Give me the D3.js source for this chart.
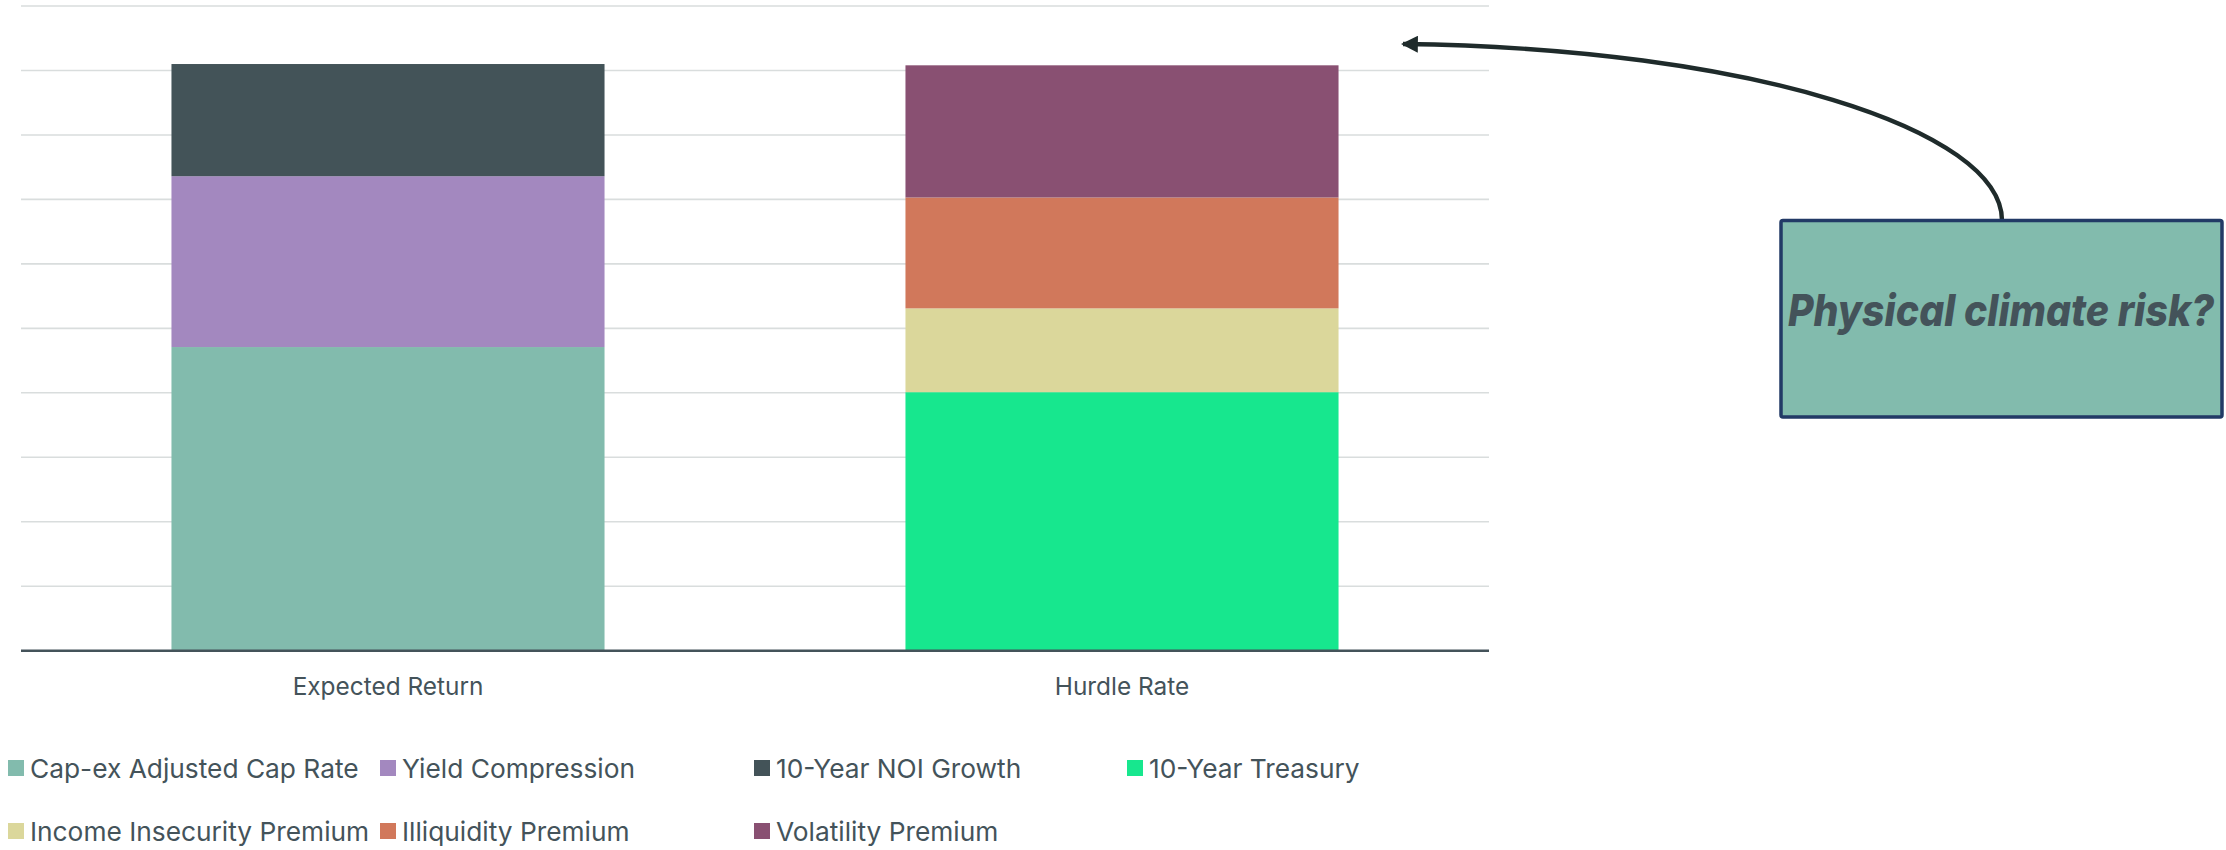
<!DOCTYPE html>
<html>
<head>
<meta charset="utf-8">
<script src="https://cdn.jsdelivr.net/npm/d3@7"></script>
<style>
  html, body { margin: 0; padding: 0; background: #ffffff; }
  svg { display: block; }
</style>
</head>
<body>
<svg id="chart" width="2226" height="850"></svg>
<script>
// Return build-up: expected return vs. hurdle rate (percentage points)
const categories = ["Expected Return", "Hurdle Rate"];
const seriesNames = [
  "Cap-ex Adjusted Cap Rate",
  "Yield Compression",
  "10-Year NOI Growth",
  "10-Year Treasury",
  "Income Insecurity Premium",
  "Illiquidity Premium",
  "Volatility Premium"
];
const capexCapRate      = [4.71, 0];
const yieldCompression  = [2.65, 0];
const noiGrowth         = [1.74, 0];
const treasury10y       = [0, 4.01];
const incomeInsecurity  = [0, 1.30];
const illiquidity       = [0, 1.72];
const volatility        = [0, 2.05];
const yTicks = [0, 1, 2, 3, 4, 5, 6, 7, 8, 9, 10];
const seriesColors = ["#82bbad", "#a388bf", "#435358", "#17e78e", "#dbd79b", "#d1785b", "#895072"];
const legendRows = [
  ["Cap-ex Adjusted Cap Rate", "Yield Compression", "10-Year NOI Growth", "10-Year Treasury"],
  ["Income Insecurity Premium", "Illiquidity Premium", "Volatility Premium"]
];
const calloutText = "Physical climate risk?";

const seriesValues = [capexCapRate, yieldCompression, noiGrowth, treasury10y,
                      incomeInsecurity, illiquidity, volatility];
const table = categories.map((c, i) => {
  const row = { category: c };
  seriesNames.forEach((s, k) => { row[s] = seriesValues[k][i]; });
  return row;
});

const textColor = "#44535a";
const font = "Inter, 'Open Sans', sans-serif";

const svg = d3.select("#chart");
const plot = { left: 21, right: 1489, top: 6, bottom: 650.7 };

const x = d3.scaleBand()
  .domain(categories)
  .range([plot.left, plot.right])
  .paddingInner(0.41)
  .paddingOuter(0.205);

const y = d3.scaleLinear()
  .domain([0, 10])
  .range([plot.bottom, plot.top]);

const color = d3.scaleOrdinal().domain(seriesNames).range(seriesColors);

// horizontal gridlines
svg.append("g")
  .selectAll("line")
  .data(yTicks.filter(t => t > 0))
  .join("line")
  .attr("x1", plot.left)
  .attr("x2", plot.right)
  .attr("y1", d => y(d))
  .attr("y2", d => y(d))
  .attr("stroke", "#d9dddd")
  .attr("stroke-width", 1.6);

// stacked bars
const stacked = d3.stack().keys(seriesNames)(table);
svg.append("g")
  .selectAll("g")
  .data(stacked)
  .join("g")
  .attr("fill", d => color(d.key))
  .selectAll("rect")
  .data(d => d.filter(p => p[1] - p[0] > 0))
  .join("rect")
  .attr("x", d => x(d.data.category))
  .attr("width", x.bandwidth())
  .attr("y", d => y(d[1]))
  .attr("height", d => y(d[0]) - y(d[1]));

// category axis
const xAxis = svg.append("g")
  .attr("transform", `translate(0,${plot.bottom})`)
  .call(d3.axisBottom(x).tickSize(0).tickPadding(27));
xAxis.select(".domain")
  .attr("d", `M${plot.left},0H${plot.right}`)
  .attr("stroke", "#44535a")
  .attr("stroke-width", 2.4);
xAxis.selectAll("text")
  .attr("fill", textColor)
  .style("font-family", font)
  .style("font-size", "24.4px")
  .style("font-weight", 400);

// legend
const legendCols = [8, 380, 754, 1127];
const legendRowY = [768, 831];
const legend = svg.append("g");
legendRows.forEach((row, r) => {
  row.forEach((name, c) => {
    const g = legend.append("g")
      .attr("transform", `translate(${legendCols[c]},${legendRowY[r]})`);
    g.append("rect")
      .attr("x", 0).attr("y", -8)
      .attr("width", 16).attr("height", 16)
      .attr("fill", color(name));
    g.append("text")
      .attr("x", 22).attr("y", 9.5)
      .attr("fill", textColor)
      .style("font-family", font)
      .style("font-size", "26.3px")
      .text(name);
  });
});

// callout box with curved arrow
const defs = svg.append("defs");
defs.append("marker")
  .attr("id", "arrowhead")
  .attr("viewBox", "0 0 16 16")
  .attr("refX", 14).attr("refY", 8)
  .attr("markerWidth", 17).attr("markerHeight", 17)
  .attr("markerUnits", "userSpaceOnUse")
  .attr("orient", "auto")
  .append("path")
  .attr("d", "M0,0L16,8L0,16Z")
  .attr("fill", "#1f2b2b");

const box = { x: 1781, y: 220.5, w: 441, h: 196.5 };
const arrowPath = d3.path();
arrowPath.moveTo(2002, box.y);
arrowPath.bezierCurveTo(2002, 130, 1750, 48, 1403, 44);
svg.append("path")
  .attr("d", arrowPath.toString())
  .attr("fill", "none")
  .attr("stroke", "#1f2b2b")
  .attr("stroke-width", 4.4)
  .attr("marker-end", "url(#arrowhead)");

svg.append("rect")
  .attr("x", box.x).attr("y", box.y)
  .attr("width", box.w).attr("height", box.h)
  .attr("rx", 2)
  .attr("fill", "#82bbad")
  .attr("stroke", "#223a66")
  .attr("stroke-width", 3.5);

// callout label, filling the box width
svg.append("text")
  .attr("x", 1788).attr("y", 326)
  .attr("fill", textColor)
  .attr("textLength", 426)
  .attr("lengthAdjust", "spacingAndGlyphs")
  .style("font-family", font)
  .style("font-size", "44px")
  .style("font-weight", 800)
  .style("font-style", "italic")
  .text(calloutText);
</script>
</body>
</html>
